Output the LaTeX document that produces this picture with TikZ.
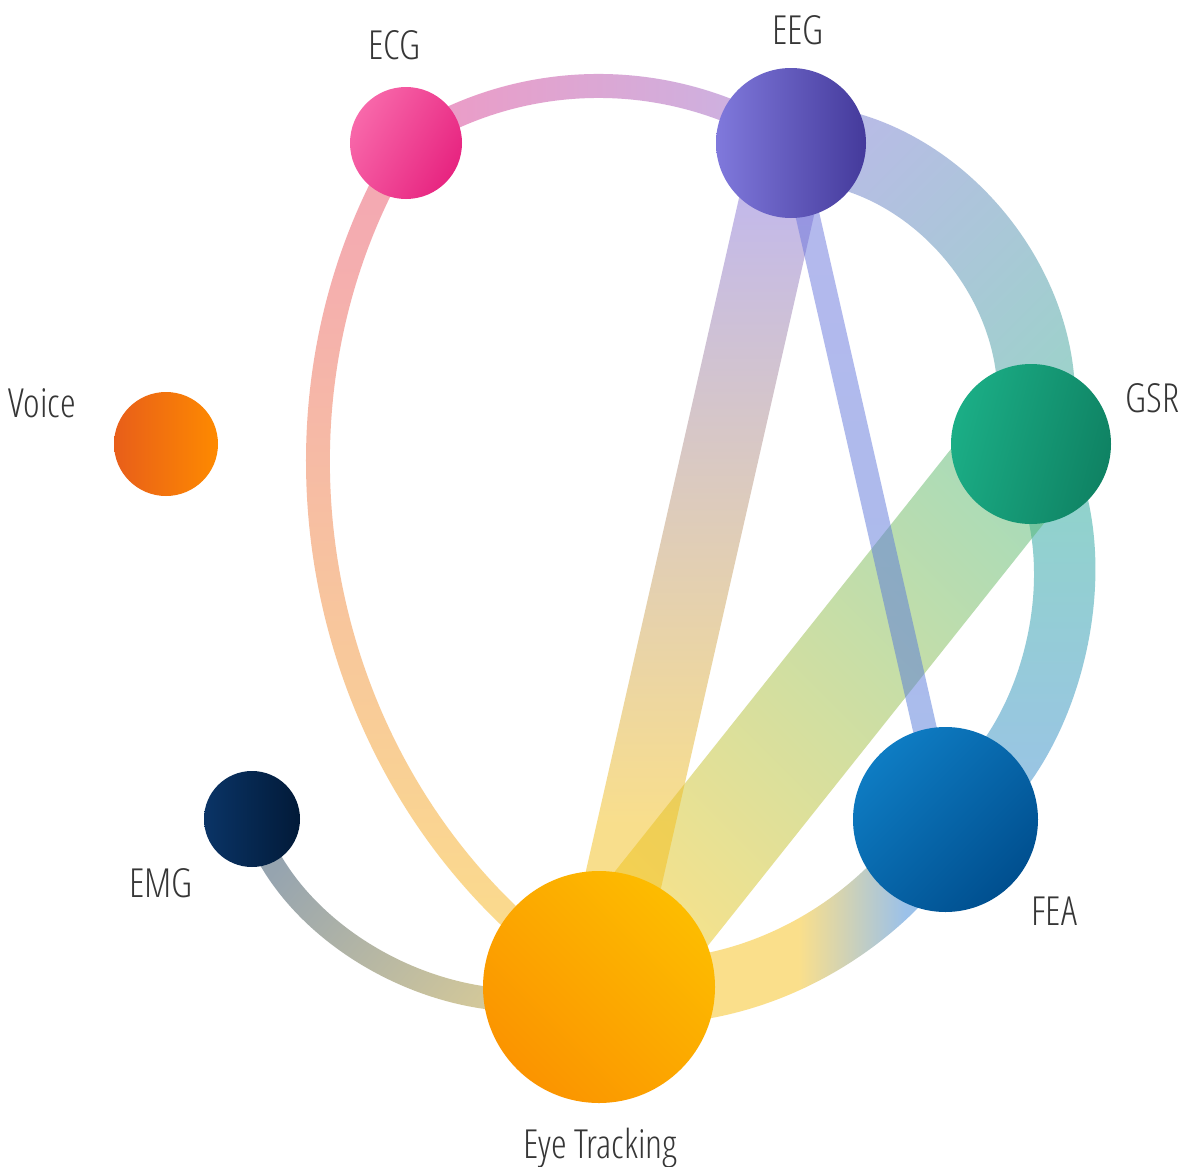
\documentclass[tikz,border=0pt]{standalone}
\usepackage{fontspec}
\IfFontExistsTF{OpenSans-CondLight.ttf}
  {\setmainfont{OpenSans-CondLight.ttf}}
  {\IfFontExistsTF{Open Sans Light}
     {\setmainfont{Open Sans Light}[FakeStretch=0.65]}
     {\setmainfont{Open Sans}[FakeStretch=0.65]}}
\usetikzlibrary{calc}

\definecolor{txtc}{HTML}{363636}
% node colours
\definecolor{ecgL}{HTML}{F868AA}\definecolor{ecgD}{HTML}{E72480}
\definecolor{eegL}{HTML}{8079DC}\definecolor{eegD}{HTML}{443A9B}
\definecolor{gsrL}{HTML}{1BAE86}\definecolor{gsrD}{HTML}{0F8263}
\definecolor{voiL}{HTML}{E85E1A}\definecolor{voiD}{HTML}{FE8A00}
\definecolor{emgL}{HTML}{0A3466}\definecolor{emgD}{HTML}{021A38}
\definecolor{feaL}{HTML}{0E7CC3}\definecolor{feaD}{HTML}{004F8F}
\definecolor{eyeL}{HTML}{FDBC00}\definecolor{eyeD}{HTML}{FB9400}
% link colours (used at 50% opacity)
\definecolor{lkAa}{HTML}{E13589}\definecolor{lkBa}{HTML}{916DCD}
\definecolor{lkAb}{HTML}{E94D6D}\definecolor{lkBb}{HTML}{F9C115}
\definecolor{lkAc}{HTML}{8975D5}\definecolor{lkBc}{HTML}{F3BF1B}
\definecolor{lkAd}{HTML}{6D73DD}\definecolor{lkBd}{HTML}{517BD9}
\definecolor{lkAe}{HTML}{717BCD}\definecolor{lkBe}{HTML}{3BA797}
\definecolor{lkAf}{HTML}{59B971}\definecolor{lkBf}{HTML}{F5C715}
\definecolor{lkAg}{HTML}{1FAF8D}\definecolor{lkBg}{HTML}{3985D5}
\definecolor{lkAh}{HTML}{F7C119}\definecolor{lkBh}{HTML}{3985D5}
\definecolor{lkAi}{HTML}{2F4B61}\definecolor{lkBi}{HTML}{C5A32B}

\pgfdeclarehorizontalshading{feaeye}{100bp}{color(0bp)=(lkAh); color(52bp)=(lkAh); color(66bp)=(lkBh); color(100bp)=(lkBh)}
\pgfdeclareverticalshading{eegeye}{100bp}{color(0bp)=(lkBc); color(35bp)=(lkBc); color(71bp)=(lkAc); color(100bp)=(lkAc)}

\pgfdeclarelayer{back}
\pgfdeclarelayer{links}
\pgfsetlayers{back,links,main}

% curved band: #1 from, #2 to, #3 out, #4 in, #5 out looseness, #6 in looseness, #7 half width, #8 shading options
\newcommand{\bandcurve}[8]{%
  \shade[#8, opacity=0.5]
    ([shift={(#3+90:#7pt)}]#1.center) to[out=#3,in=#4,out looseness=#5,in looseness=#6] ([shift={(#4-90:#7pt)}]#2.center)
    -- ([shift={(#4+90:#7pt)}]#2.center) to[out=#4,in=#3,out looseness=#6,in looseness=#5] ([shift={(#3-90:#7pt)}]#1.center)
    -- cycle;}
% straight band: #1 from, #2 to, #3 half width, #4 shading options
\newcommand{\bandline}[4]{%
  \shade[#4, opacity=0.5]
    ($(#1.center)!#3pt!90:(#2.center)$) -- ($(#2.center)!#3pt!-90:(#1.center)$)
    -- ($(#2.center)!#3pt!90:(#1.center)$) -- ($(#1.center)!#3pt!-90:(#2.center)$) -- cycle;}

\tikzset{
  ball/.style={circle, inner sep=0pt, outer sep=0pt, minimum size=#1},
  lab/.style={text=txtc, font=\fontsize{40}{48}\selectfont, inner sep=0pt, anchor=base},
}

\begin{document}
\begin{tikzpicture}[x=1pt, y=-1pt]
\useasboundingbox (0,0) rectangle (1184,1167);
\begin{pgfonlayer}{back}
  \fill[white] (0,0) rectangle (1184,1167);
\end{pgfonlayer}

% nodes
\node[ball=112pt, top color=ecgL, bottom color=ecgD, shading angle=60] (ecg) at (406,143) {};
\node[ball=150pt, top color=eegL, bottom color=eegD, shading angle=90] (eeg) at (791,143) {};
\node[ball=160pt, top color=gsrL, bottom color=gsrD, shading angle=75] (gsr) at (1031,444) {};
\node[ball=104pt, top color=voiL, bottom color=voiD, shading angle=90] (voice) at (166,444) {};
\node[ball=96pt, top color=emgL, bottom color=emgD, shading angle=90] (emg) at (252,819) {};
\node[ball=185pt, top color=feaL, bottom color=feaD, shading angle=45] (fea) at (945.5,819.5) {};
\node[ball=232pt, top color=eyeL, bottom color=eyeD, shading angle=-45] (eye) at (599,987) {};

% labels
\node[lab] (tecg) at (394.5,59.5) {ECG};
\node[lab] (teeg) at (798,44.5) {EEG};
\node[lab] (tgsr) at (1152.5,412) {GSR};
\node[lab] (tvoice) at (42.5,417.5) {Voice};
\node[lab] (temg) at (161,897.5) {EMG};
\node[lab] (tfea) at (1054.5,925) {FEA};
\node[lab] (teye) at (600,1158) {Eye Tracking};

% links
\begin{pgfonlayer}{links}
\bandcurve{ecg}{eeg}{33}{147}{0.93}{0.93}{12}{top color=lkAa, bottom color=lkBa, shading angle=90}
\bandcurve{ecg}{eye}{-121.5}{147.2}{0.95}{1}{12}{top color=lkAb, bottom color=lkBb, shading angle=0}
\bandcurve{emg}{eye}{-72.4}{-159.3}{0.9}{0.9}{11.5}{top color=lkAi, bottom color=lkBi, shading angle=50}
\bandcurve{eeg}{gsr}{0}{77}{0.97}{0.97}{39}{top color=lkAe, bottom color=lkBe, shading angle=45}
\bandcurve{gsr}{fea}{-56.5}{30.5}{0.85}{0.85}{32}{top color=lkAg, bottom color=lkBg, shading angle=0}
\bandcurve{eye}{fea}{-10}{-120}{0.93}{0.86}{32.5}{shading=feaeye, shading angle=0}
\bandline{gsr}{eye}{59.5}{top color=lkAf, bottom color=lkBf, shading angle=-45}
\bandline{eeg}{eye}{38.5}{shading=eegeye, shading angle=0}
\bandline{eeg}{fea}{12}{top color=lkAd, bottom color=lkBd, shading angle=0}
\end{pgfonlayer}
\end{tikzpicture}
\end{document}
